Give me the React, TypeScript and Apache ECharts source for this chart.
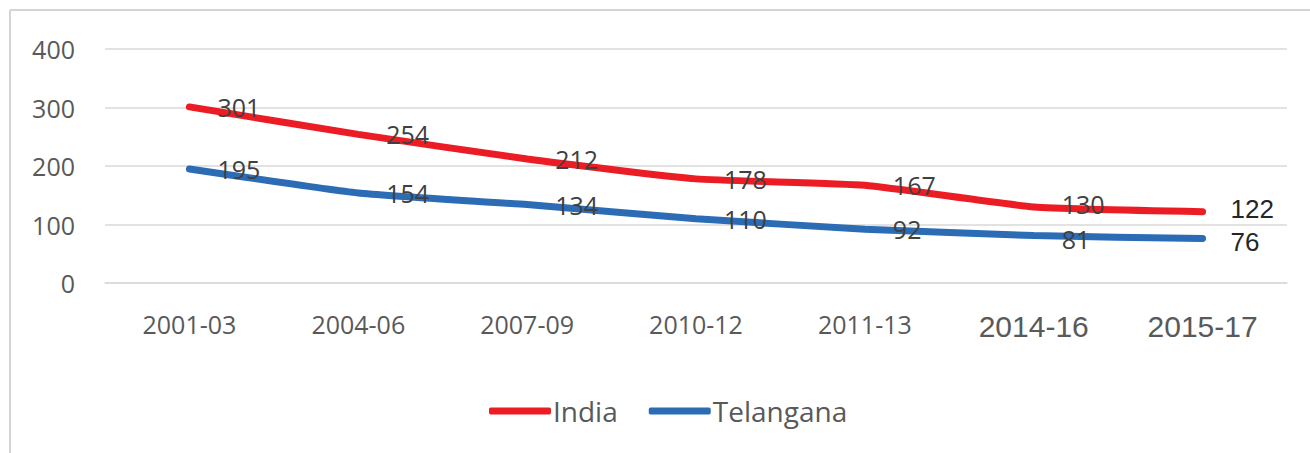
import React, { useEffect, useRef } from "react";
import * as echarts from "echarts";

const categories = ["2001-03", "2004-06", "2007-09", "2010-12", "2011-13", "2014-16", "2015-17"];
const india = [301, 254, 212, 178, 167, 130, 122];
const telangana = [195, 154, 134, 110, 92, 81, 76];
const yTicks = { min: 0, max: 400, interval: 100 };

const CAL = "'Open Sans', 'Noto Sans', sans-serif";
const ARIAL = "'Liberation Sans', Arial, sans-serif";

// dir: -1 nudges labels up, +1 nudges down (only where the two series' labels are close)
function labelled(values: number[], dir: number) {
  return values.map((v, i) => {
    const last = i === values.length - 1;
    const close = i >= values.length - 2;
    const offset = [0, close ? dir * 3 : 0];
    return {
      value: v,
      label: last
        ? { show: true, fontFamily: ARIAL, fontSize: 26, lineHeight: 20, color: "#262626", offset }
        : { show: true, fontFamily: CAL, fontSize: 25, lineHeight: 20, color: "#404040", offset },
    };
  });
}

export default function App() {
  const ref = useRef<HTMLDivElement>(null);
  useEffect(() => {
    if (!ref.current) return;
    const chart = echarts.init(ref.current, null, { renderer: "svg" });
    chart.setOption({
      animation: false,
      backgroundColor: "#ffffff",
      graphic: [
        { type: "line", shape: { x1: 10, y1: 10, x2: 1310, y2: 10 }, style: { stroke: "#d4d4d4", lineWidth: 2 } },
        { type: "line", shape: { x1: 10, y1: 10, x2: 10, y2: 453 }, style: { stroke: "#d4d4d4", lineWidth: 2 } },
      ],
      grid: { left: 105, right: 23, top: 49, bottom: 170 },
      legend: {
        left: 484,
        top: 390,
        itemWidth: 62,
        itemHeight: 7,
        itemGap: 31,
        icon: "roundRect",
        textStyle: { fontFamily: CAL, fontSize: 28, color: "#595959", lineHeight: 32, padding: [0, 0, 0, -3] },
        data: ["India", "Telangana"],
      },
      xAxis: {
        type: "category",
        data: categories,
        boundaryGap: true,
        axisLine: { show: true, lineStyle: { color: "#d9d9d9", width: 1.5 } },
        axisTick: { show: false },
        axisLabel: {
          margin: 28,
          interval: 0,
          formatter: (v: string) => {
            const idx = categories.indexOf(v);
            return idx >= 5 ? `{b|${v}}` : `{a|${v}}`;
          },
          rich: {
            a: { fontFamily: CAL, fontSize: 25, color: "#595959" },
            b: { fontFamily: ARIAL, fontSize: 30, color: "#595959" },
          },
        },
      },
      yAxis: {
        type: "value",
        min: yTicks.min,
        max: yTicks.max,
        interval: yTicks.interval,
        axisLine: { show: false },
        axisTick: { show: false },
        splitLine: { lineStyle: { color: "#d9d9d9", width: 1.5 } },
        axisLabel: { margin: 30, fontFamily: CAL, fontSize: 25, color: "#595959" },
      },
      series: [
        {
          name: "India",
          type: "line",
          data: labelled(india, -1),
          smooth: 0.15,
          symbol: "circle",
          symbolSize: 0,
          showSymbol: true,
          lineStyle: { color: "#ec1c24", width: 7, cap: "round" },
          itemStyle: { color: "#ec1c24" },
          label: { show: true, position: "right", distance: 28 },
        },
        {
          name: "Telangana",
          type: "line",
          data: labelled(telangana, 1),
          smooth: 0.15,
          symbol: "circle",
          symbolSize: 0,
          showSymbol: true,
          lineStyle: { color: "#2b6cb5", width: 7, cap: "round" },
          itemStyle: { color: "#2b6cb5" },
          label: { show: true, position: "right", distance: 28 },
        },
      ],
    });
    return () => chart.dispose();
  }, []);
  return (
    <div
      ref={ref}
      style={{ position: "absolute", left: 0, top: 0, width: 1310, height: 453 }}
    />
  );
}
